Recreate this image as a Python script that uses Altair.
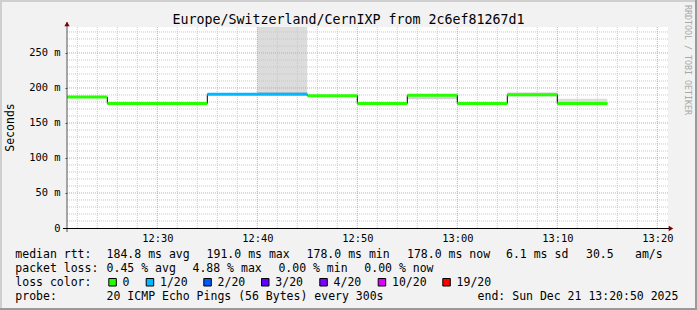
import altair as alt
import pandas as pd

# ---------------- data (time = minutes after 12:00, values in ms) ----------------
step_start = [20.97, 25, 35, 45, 50, 55, 60, 65, 70]
step_end = [25, 35, 45, 50, 55, 60, 65, 70, 75]
median_ms = [187, 178, 191, 189, 178, 189.5, 178, 190.5, 178]
step_loss = ["0", "0", "1/20", "0", "0", "0", "0", "0", "0"]

smoke_start = [40, 40, 55, 65, 70]
smoke_end = [45, 45, 60, 70, 75]
smoke_lo = [192, 195, 184, 188, 176]
smoke_hi = [195, 300, 190, 194, 184.5]
smoke_level = ["dense", "sparse", "mid", "sparse", "sparse"]

loss_labels = ["0", "1/20", "2/20", "3/20", "4/20", "10/20", "19/20"]

x_major = [30, 40, 50, 60, 70, 80]
x_minor = [22, 24, 26, 28, 32, 34, 36, 38, 42, 44, 46, 48, 52, 54, 56, 58,
           62, 64, 66, 68, 72, 74, 76, 78]
y_major = [50, 100, 150, 200, 250]
y_minor = [10, 20, 30, 40, 60, 70, 80, 90, 110, 120, 130, 140, 160, 170, 180, 190,
           210, 220, 230, 240, 260, 270, 280]
y_ticks = [0, 50, 100, 150, 200, 250]

title_text = "Europe/Switzerland/CernIXP from 2c6ef81267d1"
rtt_head = "median rtt:"
rtt_stats = ["184.8 ms avg", "191.0 ms max", "178.0 ms min", "178.0 ms now", "6.1 ms sd", "30.5", "am/s"]
loss_head = "packet loss:"
loss_stats = ["0.45 % avg", "4.88 % max", "0.00 % min", "0.00 % now"]
color_head = "loss color:"
probe_head = "probe:"
probe_text = "20 ICMP Echo Pings (56 Bytes) every 300s"
end_text = "end: Sun Dec 21 13:20:50 2025"
side_text = "RRDTOOL / TOBI OETIKER"

# ---------------- styles / layout ----------------
MONO = "DejaVu Sans Mono"
loss_colors = ["#26ff00", "#00b8ff", "#0059ff", "#5e00ff", "#7e00ff", "#dd00ff", "#ff0000"]
smoke_domain = ["sparse", "mid", "dense"]
smoke_range = ["#dcdcdc", "#d2d2d2", "#c4c4c4"]
OX, OY = 67, 27          # plot origin on the canvas
W, H = 601, 201
FS = 11.5
rtt_x = [106.6, 206.6, 306.6, 407.0, 506.0, 586.0, 635.0]
loss_x = [106.6, 192.5, 278.4, 364.3]
box_x = [108.3, 145.7, 203.3, 261.0, 319.3, 377.7, 442.3]
line_y = [258.3, 272.3, 286.3, 300.3]

XS = alt.Scale(domain=[20.97, 81.07], nice=False, zero=False)
YS = alt.Scale(domain=[0, 287.1], nice=False, zero=False)
XA = alt.Axis(values=x_major, grid=False, domain=False, ticks=False,
              labelFont=MONO, labelFontSize=10.4, labelColor="#000000",
              labelPadding=5, title=None, labelFlush=False, labelOverlap=False,
              labelExpr="(12 + floor(datum.value / 60)) + ':' + (datum.value % 60 < 10 ? '0' : '') + (datum.value % 60)")
YA = alt.Axis(values=y_ticks, grid=False, domain=False, ticks=True, tickSize=2,
              tickColor="#444444", labelFont=MONO, labelFontSize=10.4, labelColor="#000000",
              labelPadding=5, title=None, labelOverlap=False,
              labelExpr="datum.value == 0 ? '0\u00a0\u00a0' : datum.value + ' m'")

one = pd.DataFrame({"k": [0]})


def txt(s, cx, cy, size=FS, color="#000000", align="left", baseline="alphabetic", angle=0):
    return alt.Chart(one).mark_text(text=s, align=align, baseline=baseline, font=MONO,
                                    fontSize=size, color=color, angle=angle).encode(
        x=alt.value(cx - OX), y=alt.value(cy - OY))


def prule(x1, y1, x2, y2, color, width=1):
    return alt.Chart(one).mark_rule(color=color, strokeWidth=width).encode(
        x=alt.value(x1 - OX), x2=alt.value(x2 - OX), y=alt.value(y1 - OY), y2=alt.value(y2 - OY))


# ---------------- layers ----------------
smoke_df = pd.DataFrame({"s": smoke_start, "e": smoke_end, "lo": smoke_lo, "hi": smoke_hi,
                         "lvl": smoke_level})
smoke = alt.Chart(smoke_df).mark_rect(clip=True).encode(
    x=alt.X("s:Q", scale=XS, axis=XA), x2="e:Q",
    y=alt.Y("lo:Q", scale=YS, axis=YA), y2="hi:Q",
    fill=alt.Fill("lvl:N", scale=alt.Scale(domain=smoke_domain, range=smoke_range), legend=None))

gx_minor = alt.Chart(pd.DataFrame({"v": x_minor})).mark_rule(
    color="#c8c8c8", strokeDash=[1, 1], strokeWidth=1).encode(
    x=alt.X("v:Q", scale=XS, axis=XA), y=alt.value(0), y2=alt.value(H))
gy_minor = alt.Chart(pd.DataFrame({"v": y_minor})).mark_rule(
    color="#c8c8c8", strokeDash=[1, 1], strokeWidth=1).encode(
    y=alt.Y("v:Q", scale=YS, axis=YA), x=alt.value(0), x2=alt.value(W))
gx_major = alt.Chart(pd.DataFrame({"v": x_major})).mark_rule(
    color="#e89a9a", strokeDash=[1, 1], strokeWidth=1).encode(
    x=alt.X("v:Q", scale=XS, axis=XA), y=alt.value(0), y2=alt.value(H))
gy_major = alt.Chart(pd.DataFrame({"v": y_major})).mark_rule(
    color="#e89a9a", strokeDash=[1, 1], strokeWidth=1).encode(
    y=alt.Y("v:Q", scale=YS, axis=YA), x=alt.value(0), x2=alt.value(W))

med_df = pd.DataFrame({"t": step_start + [step_end[-1]], "v": median_ms + [median_ms[-1]]})
median_line = alt.Chart(med_df).mark_line(interpolate="step-after", color="#000000",
                                          strokeWidth=1).encode(
    x=alt.X("t:Q", scale=XS, axis=XA), y=alt.Y("v:Q", scale=YS, axis=YA))

seg_df = pd.DataFrame({"s": step_start, "e": step_end, "v": median_ms, "loss": step_loss})
segs = alt.Chart(seg_df).mark_rule(strokeWidth=3, strokeCap="butt").encode(
    x=alt.X("s:Q", scale=XS, axis=XA), x2="e:Q", y=alt.Y("v:Q", scale=YS, axis=YA),
    stroke=alt.Stroke("loss:N", scale=alt.Scale(domain=loss_labels, range=loss_colors), legend=None))

layers = [smoke, gx_minor, gy_minor, gx_major, gy_major, median_line, segs]

# axes lines and arrows
layers.append(prule(67, 232, 67, 22, "#555555"))
layers.append(prule(63, 228.5, 671, 228.5, "#000000"))
layers.append(alt.Chart(one).mark_point(shape="triangle-up", filled=True, size=28, color="#800000",
                                        opacity=1).encode(x=alt.value(0), y=alt.value(24 - OY)))
layers.append(alt.Chart(one).mark_point(shape="triangle-right", filled=True, size=28, color="#800000",
                                        opacity=1).encode(x=alt.value(671 - OX), y=alt.value(228.5 - OY)))

# border shade
layers.append(prule(0, 1, 697, 1, "#cfcfcf", 2))
layers.append(prule(1, 0, 1, 310, "#cfcfcf", 2))
layers.append(prule(0, 309, 697, 309, "#9a9a9a", 2))
layers.append(prule(696, 0, 696, 310, "#9a9a9a", 2))

# texts
layers.append(txt(title_text, 348.5, 24, size=13.3, align="center"))
layers.append(txt("Seconds", 11, 127.5, size=FS, align="center", baseline="middle", angle=270))
layers.append(txt(side_text, 686.5, 60, size=8.3, color="#a8a8a8", align="center",
                  baseline="middle", angle=90))

layers.append(txt(rtt_head, 15.3, line_y[0]))
for s, x in zip(rtt_stats, rtt_x):
    layers.append(txt(s, x, line_y[0]))
layers.append(txt(loss_head, 15.3, line_y[1]))
for s, x in zip(loss_stats, loss_x):
    layers.append(txt(s, x, line_y[1]))
layers.append(txt(color_head, 15.3, line_y[2]))
for lab, col, bx in zip(loss_labels, loss_colors, box_x):
    layers.append(alt.Chart(one).mark_rect(fill=col, stroke="#000000", strokeWidth=1).encode(
        x=alt.value(bx + 0.5 - OX), x2=alt.value(bx + 8 - OX),
        y=alt.value(278.5 - OY), y2=alt.value(286 - OY)))
    layers.append(txt(lab, bx + 14.3, line_y[2]))
layers.append(txt(probe_head, 15.3, line_y[3]))
layers.append(txt(probe_text, 106.6, line_y[3]))
layers.append(txt(end_text, 477.6, line_y[3]))

chart = alt.layer(*layers).properties(
    width=W, height=H, autosize="none",
    padding={"left": OX, "top": OY, "right": 697 - OX - W, "bottom": 310 - OY - H},
    background="#f2f2f2",
).configure_view(fill="#ffffff", stroke=None)

chart.save("out.html", embed_options={"renderer": "svg", "actions": False})
